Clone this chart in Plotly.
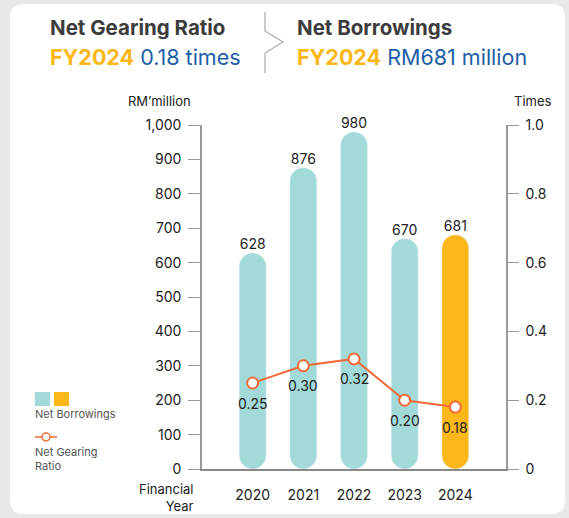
import plotly.graph_objects as go

years = ["2020", "2021", "2022", "2023", "2024"]
borrowings = [628, 876, 980, 670, 681]
gearing = [0.25, 0.30, 0.32, 0.20, 0.18]
bar_colors = ["#a2dada", "#a2dada", "#a2dada", "#a2dada", "#fbb617"]
gearing_labels = ["0.25", "0.30", "0.32", "0.20", "0.18"]
times_ticks = [0, 0.2, 0.4, 0.6, 0.8, 1.0]
times_ticklabels = ["0", "0.2", "0.4", "0.6", "0.8", "1.0"]

W, H = 569, 518
L, R, T, B = 202, 506, 125, 469  # plot area in px


def px(x):
    return (x - L) / (R - L)


def py(y):
    return (B - y) / (B - T)


FONT = "Inter, Roboto, sans-serif"
fig = go.Figure()

# bars drawn downward from their value to 0 (so both ends get rounded)
fig.add_trace(go.Bar(x=years, y=[-v for v in borrowings], base=borrowings,
                     marker_color=bar_colors, width=0.53, textposition="none",
                     showlegend=False, hoverinfo="skip"))
fig.add_trace(go.Scatter(x=years, y=borrowings, mode="text", text=[str(v) for v in borrowings],
                         textposition="top center", cliponaxis=False,
                         textfont=dict(size=14, color="#222", family=FONT),
                         showlegend=False, hoverinfo="skip"))

fig.add_trace(go.Scatter(x=years, y=gearing, yaxis="y2", mode="lines+markers",
                         line=dict(color="#f26b3a", width=2),
                         marker=dict(size=11, color="white", line=dict(color="#f26b3a", width=2)),
                         cliponaxis=False, showlegend=False))

shapes = []
# card background
x0, x1, y0, y1, r = 10, 565, 4, 514, 14
pth = (f"M {px(x0+r)},{py(y0)} L {px(x1-r)},{py(y0)} Q {px(x1)},{py(y0)} {px(x1)},{py(y0+r)} "
       f"L {px(x1)},{py(y1-r)} Q {px(x1)},{py(y1)} {px(x1-r)},{py(y1)} "
       f"L {px(x0+r)},{py(y1)} Q {px(x0)},{py(y1)} {px(x0)},{py(y1-r)} "
       f"L {px(x0)},{py(y0+r)} Q {px(x0)},{py(y0)} {px(x0+r)},{py(y0)} Z")
shapes.append(dict(type="path", xref="paper", yref="paper", path=pth,
                   fillcolor="white", line=dict(width=0), layer="below"))
# chevron divider
chev = (f"M {px(265)},{py(12)} L {px(265)},{py(31)} L {px(283)},{py(42)} "
        f"L {px(265)},{py(53)} L {px(265)},{py(73)}")
shapes.append(dict(type="path", xref="paper", yref="paper", path=chev,
                   line=dict(color="#aaaaaa", width=1.2)))
# legend symbols
shapes.append(dict(type="rect", xref="paper", yref="paper", x0=px(35), x1=px(50),
                   y0=py(392), y1=py(406), fillcolor="#a2dada", line=dict(width=0)))
shapes.append(dict(type="rect", xref="paper", yref="paper", x0=px(54), x1=px(69),
                   y0=py(392), y1=py(406), fillcolor="#fbb617", line=dict(width=0)))
shapes.append(dict(type="line", xref="paper", yref="paper", x0=px(35), x1=px(57),
                   y0=py(437), y1=py(437), line=dict(color="#f26b3a", width=1.5)))
shapes.append(dict(type="circle", xref="paper", yref="paper", x0=px(42), x1=px(50),
                   y0=py(433), y1=py(441), fillcolor="white", line=dict(color="#f26b3a", width=1.5)))

ann = []


def text(x, y, s, size, color="#222", xanchor="left", align="left", family=FONT):
    ann.append(dict(x=px(x), y=py(y), xref="paper", yref="paper", text=s, showarrow=False,
                    xanchor=xanchor, yanchor="middle", align=align,
                    font=dict(size=size, color=color, family=family)))


text(48, 28, "<b>Net Gearing Ratio</b>", 20.5, "#3c3c3c")
text(48, 57, "<b><span style='color:#fbb617'>FY2024</span></b> 0.18 times", 21.5, "#1d5ea8")
text(295, 28, "<b>Net Borrowings</b>", 20.5, "#3c3c3c")
text(295, 57, "<b><span style='color:#fbb617'>FY2024</span></b> RM681 million", 21.5, "#1d5ea8")
text(193, 101, "RM’million", 13, "#222", xanchor="right")
text(512, 101, "Times", 13, "#222")
text(196, 497, "Financial<br>Year", 13, "#222", xanchor="right", align="right")
text(33, 414, "Net Borrowings", 11, "#555")
text(33, 459, "Net Gearing<br>Ratio", 11, "#555")

# gearing value labels, set below each point
for i, (g, lab) in enumerate(zip(gearing, gearing_labels)):
    ann.append(dict(x=i, y=g, xref="x", yref="y2", text=lab, showarrow=False,
                    yshift=-20, font=dict(size=14, color="#222", family=FONT)))

fig.update_layout(
    width=W, height=H,
    margin=dict(l=L, r=W - R, t=T, b=H - B),
    paper_bgcolor="#e7e8ea", plot_bgcolor="rgba(0,0,0,0)",
    barmode="overlay", barcornerradius="50%",
    font=dict(family=FONT, color="#222"),
    shapes=shapes, annotations=ann,
    xaxis=dict(type="category", range=[-1, 5], showgrid=False, showline=True,
               linecolor="#888", linewidth=1.5, ticks="", tickfont=dict(size=14, color="#222"),
               ticklabelstandoff=12),
    yaxis=dict(range=[0, 1000], dtick=100, tickformat=",", showgrid=False, zeroline=False,
               showline=True, linecolor="#999", linewidth=1.5, ticks="outside", ticklen=12,
               tickcolor="#999", tickfont=dict(size=14, color="#222"), ticklabelstandoff=4),
    yaxis2=dict(range=[0, 1], tickvals=times_ticks, ticktext=times_ticklabels,
                overlaying="y", side="right",
                showgrid=False, zeroline=False, showline=True, linecolor="#999", linewidth=1.5,
                ticks="outside", ticklen=11, tickcolor="#999",
                tickfont=dict(size=14, color="#222"), ticklabelstandoff=4),
)

fig.write_html("out.html")
